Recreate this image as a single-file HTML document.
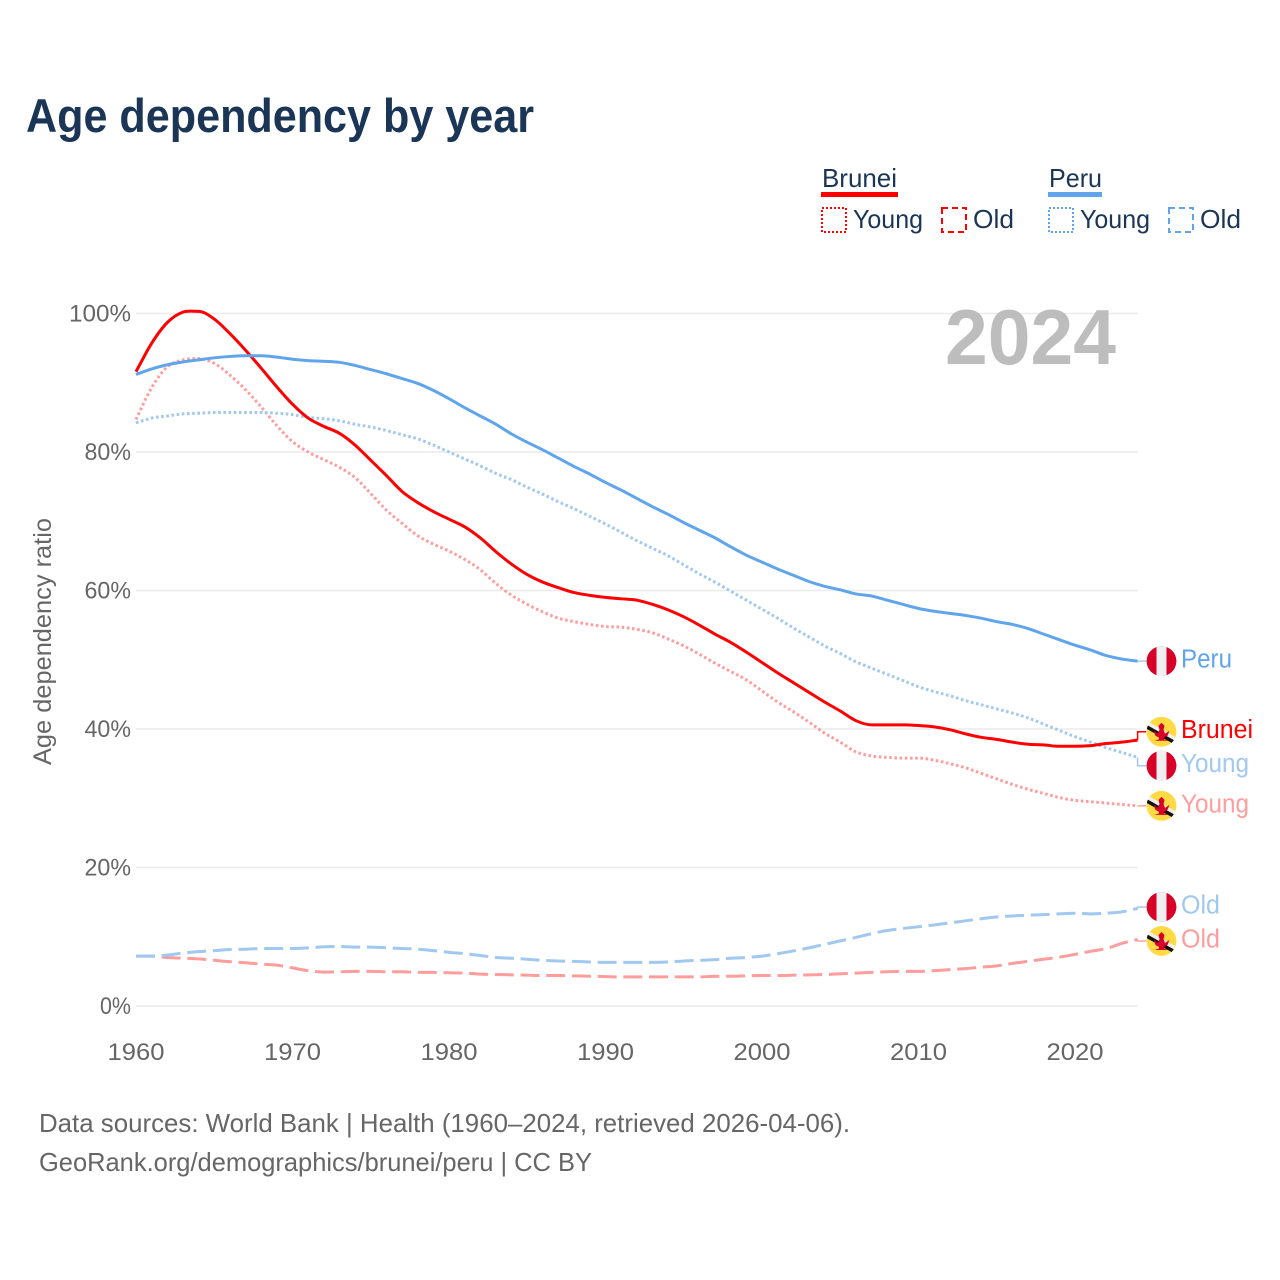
<!DOCTYPE html>
<html lang="en">
<head>
<meta charset="utf-8">
<title>Age dependency by year</title>
<style>
html,body{margin:0;padding:0;background:#fff;width:1280px;height:1280px;overflow:hidden}
svg{display:block}
text{font-family:"Liberation Sans",sans-serif}
</style>
</head>
<body>
<svg id="chart" xmlns="http://www.w3.org/2000/svg" width="1280" height="1280" viewBox="0 0 1280 1280">
  <defs>
    <clipPath id="flag-clip"><circle cx="0" cy="0" r="15"/></clipPath>
  </defs>
  <rect x="0" y="0" width="1280" height="1280" fill="#ffffff"/>
  <text x="26" y="132" font-size="47" font-weight="700" fill="#1a3556" textLength="508" lengthAdjust="spacingAndGlyphs">Age dependency by year</text>

  <g>
    <g>
      <text x="822" y="187" font-size="26" fill="#1a3556" textLength="75" lengthAdjust="spacingAndGlyphs">Brunei</text>
      <rect x="821" y="192" width="77" height="5" fill="#ff0000"/>
      <rect x="822" y="208" width="24" height="24" fill="none" stroke="#ff0000" stroke-width="2" stroke-dasharray="2 2"/>
      <text x="853" y="228" font-size="26" fill="#1a3556" textLength="70" lengthAdjust="spacingAndGlyphs">Young</text>
      <rect x="942" y="208" width="24" height="24" fill="none" stroke="#ff0000" stroke-width="2" stroke-dasharray="6 4"/>
      <text x="973" y="228" font-size="26" fill="#1a3556" textLength="41" lengthAdjust="spacingAndGlyphs">Old</text>
    </g>
    <g>
      <text x="1049" y="187" font-size="26" fill="#1a3556" textLength="53" lengthAdjust="spacingAndGlyphs">Peru</text>
      <rect x="1048" y="192" width="54" height="5" fill="#60a5ec"/>
      <rect x="1049" y="208" width="24" height="24" fill="none" stroke="#60a5ec" stroke-width="2" stroke-dasharray="2 2"/>
      <text x="1080" y="228" font-size="26" fill="#1a3556" textLength="70" lengthAdjust="spacingAndGlyphs">Young</text>
      <rect x="1169" y="208" width="24" height="24" fill="none" stroke="#60a5ec" stroke-width="2" stroke-dasharray="6 4"/>
      <text x="1200" y="228" font-size="26" fill="#1a3556" textLength="41" lengthAdjust="spacingAndGlyphs">Old</text>
    </g>
  </g>

  <text transform="translate(51,765) rotate(-90)" x="0" y="0" font-size="25" fill="#666666" textLength="247" lengthAdjust="spacingAndGlyphs">Age dependency ratio</text>

  <g id="grid"></g>
  <text x="945" y="364" font-size="78" font-weight="700" fill="#bdbdbd" textLength="171" lengthAdjust="spacingAndGlyphs">2024</text>
  <g id="y-ticks"></g>
  <g id="x-ticks"></g>
  <g id="series"></g>
  <g id="end-labels"></g>

  <text x="39" y="1132" font-size="26" fill="#666666" textLength="811" lengthAdjust="spacingAndGlyphs">Data sources: World Bank | Health (1960–2024, retrieved 2026-04-06).</text>
  <text x="39" y="1171" font-size="26" fill="#666666" textLength="553" lengthAdjust="spacingAndGlyphs">GeoRank.org/demographics/brunei/peru | CC BY</text>
</svg>

<script>
const firstYear = 1960;
const yTickValues = [0, 20, 40, 60, 80, 100];
const yTickLabels = ["0%", "20%", "40%", "60%", "80%", "100%"];
const xTickValues = [1960, 1970, 1980, 1990, 2000, 2010, 2020];

const bruneiTotal = [91.6,95.7,98.7,100.2,100.3,99.2,97.1,94.7,92.1,89.4,86.9,84.9,83.7,82.7,81,78.8,76.6,74.3,72.7,71.4,70.3,69.2,67.6,65.6,63.8,62.3,61.2,60.4,59.7,59.3,59,58.8,58.6,58,57.2,56.2,55,53.7,52.5,51.1,49.6,48.1,46.7,45.3,43.9,42.6,41.2,40.6,40.6,40.6,40.5,40.3,39.9,39.3,38.8,38.5,38.1,37.8,37.7,37.5,37.5,37.6,37.9,38.1,38.4];
const bruneiYoung = [84.7,89.3,92.3,93.3,93.5,92.8,91.1,89,86.5,83.8,81.5,80,78.9,77.8,76.3,74,71.6,69.7,67.9,66.7,65.7,64.5,63,61,59.3,58,56.9,56,55.5,55.1,54.8,54.7,54.4,53.9,53,52,50.8,49.5,48.3,47.1,45.5,43.9,42.5,41,39.4,38.1,36.7,36.1,35.9,35.8,35.8,35.5,35,34.4,33.6,32.8,32,31.3,30.7,30.1,29.7,29.5,29.3,29.1,28.9];
const bruneiOld = [7.2,7.2,7,6.9,6.8,6.6,6.4,6.25,6.05,5.9,5.5,5.1,4.9,4.95,5,5,4.95,4.95,4.85,4.85,4.8,4.75,4.6,4.55,4.5,4.45,4.4,4.4,4.35,4.3,4.25,4.2,4.2,4.2,4.2,4.2,4.2,4.3,4.3,4.35,4.4,4.4,4.45,4.5,4.55,4.65,4.75,4.85,4.95,5,5,5.1,5.25,5.4,5.6,5.8,6.15,6.45,6.75,7.05,7.45,7.9,8.3,9.05,9.6];
const peruTotal = [91.2,92,92.6,93,93.3,93.6,93.8,93.9,93.9,93.7,93.4,93.2,93.1,92.95,92.5,91.9,91.3,90.6,89.9,88.9,87.7,86.4,85.2,84,82.6,81.4,80.3,79.1,77.9,76.8,75.6,74.5,73.3,72.1,71,69.8,68.7,67.6,66.3,65.1,64.1,63.1,62.2,61.3,60.6,60.1,59.5,59.2,58.6,58,57.4,57,56.7,56.4,56,55.5,55.1,54.5,53.7,52.9,52.1,51.4,50.6,50.1,49.8];
const peruYoung = [84.2,84.9,85.2,85.5,85.6,85.7,85.7,85.7,85.7,85.6,85.4,85,84.8,84.5,84,83.6,83.1,82.5,81.9,81,80,79,78,76.9,76,74.9,73.9,72.8,71.8,70.7,69.6,68.4,67.2,66.1,65,63.7,62.4,61.2,59.9,58.6,57.3,56,54.6,53.3,52,50.9,49.7,48.8,47.9,47,46.1,45.4,44.8,44.1,43.5,42.9,42.3,41.6,40.7,39.8,38.9,38.1,37.3,36.6,35.9];
const peruOld = [7.2,7.2,7.35,7.65,7.85,8,8.15,8.2,8.3,8.3,8.3,8.4,8.55,8.6,8.5,8.5,8.4,8.3,8.2,8,7.75,7.55,7.3,7,6.9,6.75,6.6,6.5,6.45,6.35,6.3,6.3,6.3,6.3,6.35,6.5,6.6,6.7,6.9,7,7.2,7.55,7.95,8.4,8.9,9.4,9.9,10.45,10.9,11.2,11.45,11.7,12,12.3,12.6,12.85,13,13.1,13.2,13.3,13.4,13.3,13.4,13.6,14.1];

const NS = "http://www.w3.org/2000/svg";
const plotLeft = 136, pxPerYear = 15.65, yZero = 1006, pxPerPercent = 6.925;
const xScale = function (year) { return plotLeft + (year - firstYear) * pxPerYear; };
const yScale = function (value) { return yZero - value * pxPerPercent; };
const lastYear = firstYear + peruTotal.length - 1;

function make(tag, attrs, parent) {
  const el = document.createElementNS(NS, tag);
  for (const k in attrs) el.setAttribute(k, attrs[k]);
  parent.appendChild(el);
  return el;
}

/* Monotone cubic path through the plotted points. */
function curvePath(values) {
  const xs = values.map(function (v, i) { return xScale(firstYear + i); });
  const ys = values.map(yScale);
  const n = xs.length;
  const slopes = [];
  for (let i = 0; i < n - 1; i++) slopes.push((ys[i + 1] - ys[i]) / (xs[i + 1] - xs[i]));
  const tangents = [slopes[0]];
  for (let i = 1; i < n - 1; i++) {
    tangents.push(slopes[i - 1] * slopes[i] <= 0 ? 0 : (slopes[i - 1] + slopes[i]) / 2);
  }
  tangents.push(slopes[n - 2]);
  let d = "M" + xs[0].toFixed(2) + " " + ys[0].toFixed(2);
  for (let i = 0; i < n - 1; i++) {
    const h = (xs[i + 1] - xs[i]) / 3;
    d += "C" + (xs[i] + h).toFixed(2) + " " + (ys[i] + tangents[i] * h).toFixed(2) + " " +
         (xs[i + 1] - h).toFixed(2) + " " + (ys[i + 1] - tangents[i + 1] * h).toFixed(2) + " " +
         xs[i + 1].toFixed(2) + " " + ys[i + 1].toFixed(2);
  }
  return d;
}

const gridG = document.getElementById("grid");
const yTickG = document.getElementById("y-ticks");
yTickValues.forEach(function (v, i) {
  const line = make("line", {x1: plotLeft, x2: xScale(lastYear), y1: yScale(v), y2: yScale(v), stroke: "#ebebeb", "stroke-width": 1.5}, gridG);
  
  
  const label = make("text", {x: 131, y: yScale(v) + 8, "text-anchor": "end", "font-size": 24, fill: "#666666", textLength: yTickLabels[i].length * 15.5, lengthAdjust: "spacingAndGlyphs"}, yTickG);
  
  
  label.textContent = yTickLabels[i];
});

const xTickG = document.getElementById("x-ticks");
xTickValues.forEach(function (year) {
  const label = make("text", {x: xScale(year), y: 1060, "text-anchor": "middle", "font-size": 24, fill: "#666666", textLength: 57, lengthAdjust: "spacingAndGlyphs"}, xTickG);
  
  
  label.textContent = String(year);
});

const seriesList = [
  {id: "brunei-old", values: bruneiOld, color: "#ff9d9d", dash: "19 6.7", label: "Old", flag: "brunei", labelWidth: 39},
  {id: "peru-old", values: peruOld, color: "#a0c8f0", dash: "19 6.7", label: "Old", flag: "peru", labelWidth: 39},
  {id: "brunei-young", values: bruneiYoung, color: "#ff9d9d", dash: "2.6 2.6", label: "Young", flag: "brunei", labelWidth: 68},
  {id: "peru-young", values: peruYoung, color: "#a0c8f0", dash: "2.6 2.6", label: "Young", flag: "peru", labelWidth: 68},
  {id: "brunei-total", values: bruneiTotal, color: "#ff0000", dash: "", label: "Brunei", flag: "brunei", labelWidth: 72},
  {id: "peru-total", values: peruTotal, color: "#60a5ec", dash: "", label: "Peru", flag: "peru", labelWidth: 51}
];

const seriesG = document.getElementById("series");
seriesList.forEach(function (s) {
  const line = make("path", {d: curvePath(s.values), fill: "none", stroke: s.color, "stroke-width": 3, "stroke-linejoin": "round"}, seriesG);
  if (s.dash) line.setAttribute("stroke-dasharray", s.dash);
  
  
});

/* Resolve end-label collisions: overlapping labels spread around their shared centre. */
const minGap = 34;
const placed = seriesList.map(function (s) {
  return {s: s, want: yScale(s.values[s.values.length - 1])};
}).sort(function (a, b) { return a.want - b.want; });
let clusters = placed.map(function (p) { return {items: [p], center: p.want}; });
let merged = true;
while (merged) {
  merged = false;
  for (let i = 0; i < clusters.length - 1; i++) {
    const a = clusters[i], b = clusters[i + 1];
    const aEnd = a.center + (a.items.length - 1) * minGap / 2;
    const bStart = b.center - (b.items.length - 1) * minGap / 2;
    if (bStart - aEnd < minGap) {
      const items = a.items.concat(b.items);
      const center = items.reduce(function (t, p) { return t + p.want; }, 0) / items.length;
      clusters.splice(i, 2, {items: items, center: center});
      merged = true;
      break;
    }
  }
}
clusters.forEach(function (c) {
  c.items.forEach(function (p, i) {
    p.y = c.center + (i - (c.items.length - 1) / 2) * minGap;
  });
});

function drawFlag(parent, kind, cx, cy) {
  const g = make("g", {transform: "translate(" + cx + "," + cy + ")", "clip-path": "url(#flag-clip)"}, parent);
  
  
  if (kind === "peru") {
    make("circle", {cx: 0, cy: 0, r: 15, fill: "#d80027"}, g);
    make("rect", {x: -5, y: -15, width: 10, height: 30, fill: "#f0f0f0"}, g);
  } else {
    make("circle", {cx: 0, cy: 0, r: 15, fill: "#ffda44"}, g);
    make("polygon", {points: "-16,-11.5 16,6.5 16,10.5 -16,-7.5", fill: "#f0f0f0"}, g);
    make("polygon", {points: "-16,-7.5 16,10.5 16,14.5 -16,-3.5", fill: "#111111"}, g);
    make("path", {d: "M-8 -1 L-6 4 L-2.5 6 L-2.5 7.5 L-7 9 L7 9 L2.5 7.5 L2.5 6 L6 4 L8 -1 L3.5 2 L2 -2 L3 -6 L0 -9 L-3 -6 L-2 -2 L-3.5 2 Z", fill: "#d80027"}, g);
  }
}

const labelsG = document.getElementById("end-labels");
const endX = xScale(lastYear);
placed.forEach(function (p) {
  const s = p.s;
  const vy = yScale(s.values[s.values.length - 1]);
  const stepColor = s.id === "brunei-total" ? "#ff0000" : (s.flag === "brunei" ? "#ff9d9d" : "#a0c8f0");
  const connector = make("polyline", {points: endX + "," + vy + " " + endX + "," + p.y + " 1146," + p.y, fill: "none", stroke: stepColor, "stroke-width": 1.5}, labelsG);
  
  
  drawFlag(labelsG, s.flag, 1161.5, p.y);
  const label = make("text", {x: 1181, y: p.y + 6.5, "font-size": 25.5, fill: s.color, textLength: s.labelWidth, lengthAdjust: "spacingAndGlyphs"}, labelsG);
  
  
  label.textContent = s.label;
});
</script>
</body>
</html>
